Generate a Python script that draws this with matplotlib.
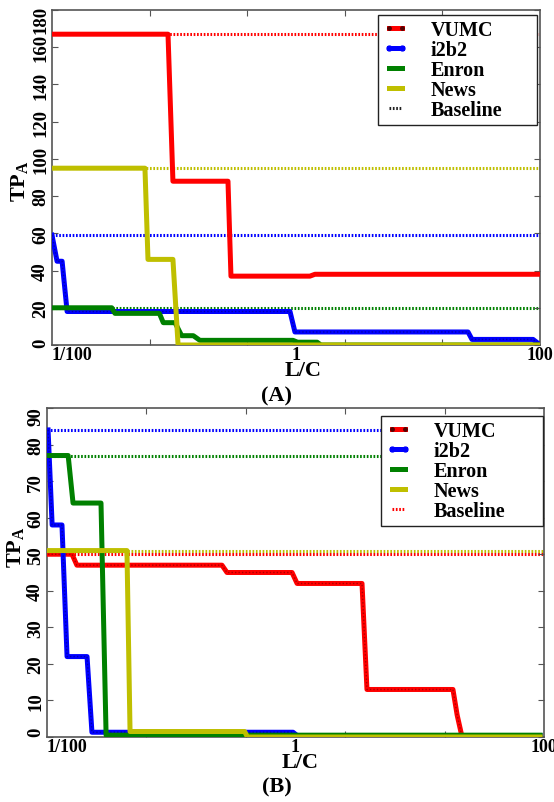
import numpy as np
import matplotlib
matplotlib.use('Agg')
import matplotlib.pyplot as plt
from matplotlib.lines import Line2D
from matplotlib.transforms import ScaledTranslation

plt.rcParams['font.family'] = ['Liberation Serif', 'DejaVu Serif']
plt.rcParams['font.weight'] = 'bold'
plt.rcParams['mathtext.fontset'] = 'custom'
plt.rcParams['mathtext.bf'] = 'Liberation Serif:bold'
plt.rcParams['mathtext.rm'] = 'Liberation Serif:bold'

# ---- data (x = L/C, y = TP_A) ----
names = ['VUMC', 'i2b2', 'Enron', 'News']
colors = ['#ff0000', '#0000ff', '#008000', '#bfbf00']

# panel A
lc_vumc_a = [0.01, 0.0893, 0.098, 0.277, 0.293, 1.30, 1.43, 96]
tp_vumc_a = [167, 167, 88, 88, 37, 37, 38, 38]
lc_i2b2_a = [0.01, 0.011, 0.0121, 0.0133, 0.893, 0.98, 25.7, 27.7, 87.7, 96]
tp_i2b2_a = [59, 45, 45, 18, 18, 7, 7, 3, 3, 1]
lc_enron_a = [0.01, 0.0309, 0.0328, 0.0759, 0.0817, 0.102, 0.1155, 0.144,
              0.163, 0.945, 1.03, 1.49, 1.6, 96]
tp_enron_a = [20, 20, 17, 17, 12, 12, 5, 5, 2.5, 2.5, 1.5, 1.5, 0, 0]
lc_news_a = [0.01, 0.0578, 0.0612, 0.098, 0.108, 96]
tp_news_a = [95, 95, 46, 46, 0, 0]
baseline_a = [167, 59, 20, 95]

# panel B
lc_vumc_b = [0.0102, 0.0159, 0.0174, 0.256, 0.281, 0.938, 1.03, 3.43, 3.76,
             18.5, 20, 21.9, 93]
tp_vumc_b = [50, 50, 47, 47, 45, 45, 42, 42, 13, 13, 6, 0, 0]
lc_i2b2_b = [0.0102, 0.011, 0.0132, 0.0145, 0.021, 0.023, 0.955, 1.03, 93]
tp_i2b2_b = [84, 58, 58, 22, 22, 1.3, 1.3, 0.4, 0.4]
lc_enron_b = [0.0102, 0.0148, 0.0162, 0.0272, 0.0299, 93]
tp_enron_b = [77, 77, 64, 64, 0.5, 0.5]
lc_news_b = [0.0102, 0.044, 0.0466, 0.39, 0.41, 93]
tp_news_b = [51, 51, 1.5, 1.5, 0, 0]
baseline_b = [50, 84, 77, 51]

xtick_vals = [0.01, 1, 100]
xtick_text = ['1/100', '1', '100']

W, H = 554, 803
fig = plt.figure(figsize=(W / 100, H / 100), dpi=100)
DOT = (0, (0.55, 0.55))


def px_box(l, t, r, b):
    return [l / W, 1 - b / H, (r - l) / W, (b - t) / H]


def shift(text, dy_px):
    text.set_transform(text.get_transform() +
                       ScaledTranslation(0, dy_px / 100, fig.dpi_scale_trans))


def panel(ax, series, baselines, ymax, ystep, leg_box, base_color, textured,
          top_dy, bot_dy):
    for col, bl in zip(colors, baselines):
        ax.axhline(bl, color=col, lw=2.2, ls=DOT, zorder=1)
    for i, ((lc, tp), col, nm) in enumerate(zip(series, colors, names)):
        ax.plot(lc, tp, color=col, lw=3.6, zorder=3 + i)
        if i in textured:
            ax.plot(lc, tp, color='#000040' if i == 1 else '#400000', lw=1.0,
                    ls=(0, (1, 1.5)), alpha=0.45, zorder=3 + i)
    ax.set_xscale('log')
    ax.set_xlim(0.01, 100)
    ax.set_ylim(0, ymax)
    ax.set_yticks(np.arange(0, ymax + 1, ystep))
    ax.set_xticks(xtick_vals)
    ax.set_xticklabels(xtick_text)
    ax.set_xticks(np.logspace(-2, 2, 6)[1:-1], minor=True)
    ax.xaxis.set_minor_formatter(plt.NullFormatter())
    ax.tick_params(axis='both', which='both', direction='in', top=True,
                   right=True, width=0.8, color='#555555')
    ax.tick_params(axis='x', which='major', length=0, pad=1, labelsize=13)
    ax.tick_params(axis='x', which='minor', length=4)
    ax.tick_params(axis='y', length=4, pad=2, labelsize=13.5)
    ax.get_xticklabels()[0].set_ha('left')
    ylabs = ax.get_yticklabels()
    for t in ylabs:
        t.set_rotation(90)
        t.set_va('center')
    shift(ylabs[-1], top_dy)
    shift(ylabs[0], bot_dy)
    for s in ax.spines.values():
        s.set_color('#555555')
        s.set_linewidth(1.2)
    handles = [
        Line2D([], [], color=colors[0], lw=3.6, marker='.', ms=5,
               mfc='#550000', mec='#550000'),
        Line2D([], [], color=colors[1], lw=3.6, marker='.', ms=7,
               mfc=colors[1], mec=colors[1]),
        Line2D([], [], color=colors[2], lw=3.6),
        Line2D([], [], color=colors[3], lw=3.6),
        Line2D([], [], color=base_color, lw=2.2, ls=DOT),
    ]
    labels = names + ['Baseline']
    l, t, r, b = leg_box
    leg = ax.legend(handles, labels, loc='upper left',
                    bbox_to_anchor=(l / W, 1 - b / H, (r - l) / W, (b - t) / H),
                    bbox_transform=fig.transFigure, mode='expand',
                    prop={'family': 'Liberation Serif', 'weight': 'bold',
                          'size': 14.5},
                    numpoints=2, handlelength=1.25, handletextpad=1.1,
                    labelspacing=0.0, borderpad=0.25, borderaxespad=0,
                    fancybox=False, framealpha=1, edgecolor='#222222')
    leg.get_frame().set_linewidth(1.0)
    leg.set_zorder(20)


ax_a = fig.add_axes(px_box(52, 11, 540, 346))
panel(ax_a, [(lc_vumc_a, tp_vumc_a), (lc_i2b2_a, tp_i2b2_a),
             (lc_enron_a, tp_enron_a), (lc_news_a, tp_news_a)],
      baseline_a, 180, 20, (378, 16, 537, 119), '#222222', [1], -9, 3)
ax_a.set_ylabel(r'TP$_\mathbf{A}$', fontsize=16, fontweight='bold')
ax_a.yaxis.set_label_coords((31 - 52) / 488, (346 - 181) / 335)

ax_b = fig.add_axes(px_box(47, 409, 544, 738))
panel(ax_b, [(lc_vumc_b, tp_vumc_b), (lc_i2b2_b, tp_i2b2_b),
             (lc_enron_b, tp_enron_b), (lc_news_b, tp_news_b)],
      baseline_b, 90, 10, (381, 417, 543, 519), '#ff0000', [0, 1], -8, 6)
ax_b.set_ylabel(r'TP$_\mathbf{A}$', fontsize=16, fontweight='bold')
ax_b.yaxis.set_label_coords((27 - 47) / 497, (738 - 547) / 329)

fig.text(303 / W, 1 - 371 / H, 'L/C', ha='center', va='center',
         fontsize=16, fontweight='bold')
fig.text(277 / W, 1 - 396 / H, '(A)', ha='center', va='center',
         fontsize=16, fontweight='bold')
fig.text(300 / W, 1 - 763 / H, 'L/C', ha='center', va='center',
         fontsize=16, fontweight='bold')
fig.text(277 / W, 1 - 787 / H, '(B)', ha='center', va='center',
         fontsize=16, fontweight='bold')

fig.savefig('out.png', dpi=100)
